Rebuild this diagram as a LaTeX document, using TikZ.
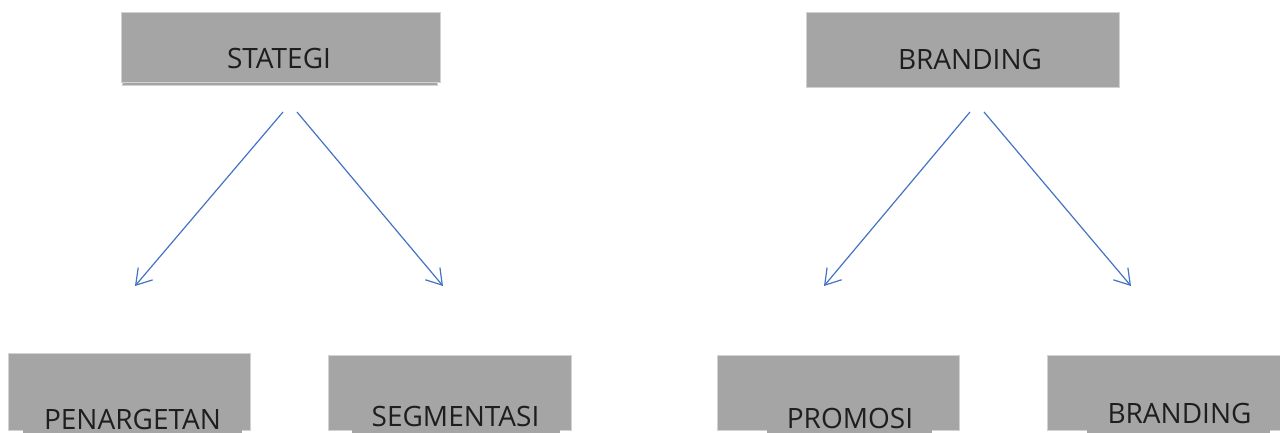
\documentclass[tikz,border=0pt]{standalone}
\usepackage{fontspec}
\setmainfont{Open Sans}
\usetikzlibrary{arrows.meta}
\definecolor{boxgray}{HTML}{A5A5A5}
\definecolor{boxedge}{HTML}{D2D2D2}
\definecolor{arrowblue}{HTML}{4472C4}
\definecolor{txt}{HTML}{1E1E1E}
\begin{document}
\begin{tikzpicture}[x=1pt,y=-1pt,
  graybox/.style={rectangle,fill=boxgray,draw=boxedge,line width=0.7pt,inner sep=0pt,outer sep=0pt,anchor=north west},
  strip/.style={rectangle,fill=boxgray,inner sep=0pt,outer sep=0pt,anchor=north west},
  lbl/.style={anchor=base,inner sep=0pt,text=txt,font=\fontsize{28}{34}\selectfont},
  conn/.style={draw=arrowblue,line width=1.2pt,-{Straight Barb[length=15pt,width=19pt]}}]
\useasboundingbox (0,0) rectangle (1280,432);
\clip (0,0) rectangle (1280,432);
% top boxes
\node[graybox,minimum width=315pt,minimum height=73pt] (s1) at (122,12) {};
\node[graybox,minimum width=319pt,minimum height=70pt] (b1) at (121,12) {};
\node[graybox,minimum width=313pt,minimum height=75pt] (b2) at (806,12) {};
% bottom boxes
\node[graybox,minimum width=242pt,minimum height=77pt] (b3) at (8,353) {};
\node[strip,minimum width=219pt,minimum height=20pt] (s3) at (23,425) {};
\node[graybox,minimum width=243pt,minimum height=75pt] (b4) at (328,355) {};
\node[strip,minimum width=208pt,minimum height=20pt] (s4) at (352,425) {};
\node[graybox,minimum width=242pt,minimum height=75pt] (b5) at (717,355) {};
\node[strip,minimum width=165pt,minimum height=20pt] (s5) at (767,425) {};
\node[graybox,minimum width=240pt,minimum height=75pt] (b6) at (1047,355) {};
\node[strip,minimum width=183pt,minimum height=20pt] (s6) at (1087,425) {};
% labels
\node[lbl] (t1) at (279,68) {STATEGI};
\node[lbl] (t2) at (970,69) {BRANDING};
\node[lbl] (t3) at (132.5,429) {PENARGETAN};
\node[lbl] (t4) at (455.5,426) {SEGMENTASI};
\begin{scope}
\clip (700,340) rectangle (970,430);
\node[lbl] (t5) at (850,428) {PROMOSI};
\end{scope}
\node[lbl] (t6) at (1179.5,423) {BRANDING};
% connectors
\coordinate (a1s) at (283,112); \coordinate (a1e) at (135,286);
\coordinate (a2s) at (297,112); \coordinate (a2e) at (443,286);
\coordinate (a3s) at (970,112); \coordinate (a3e) at (824,286);
\coordinate (a4s) at (984,112); \coordinate (a4e) at (1131,286);
\draw[conn] (a1s) -- (a1e);
\draw[conn] (a2s) -- (a2e);
\draw[conn] (a3s) -- (a3e);
\draw[conn] (a4s) -- (a4e);
\end{tikzpicture}
\end{document}
